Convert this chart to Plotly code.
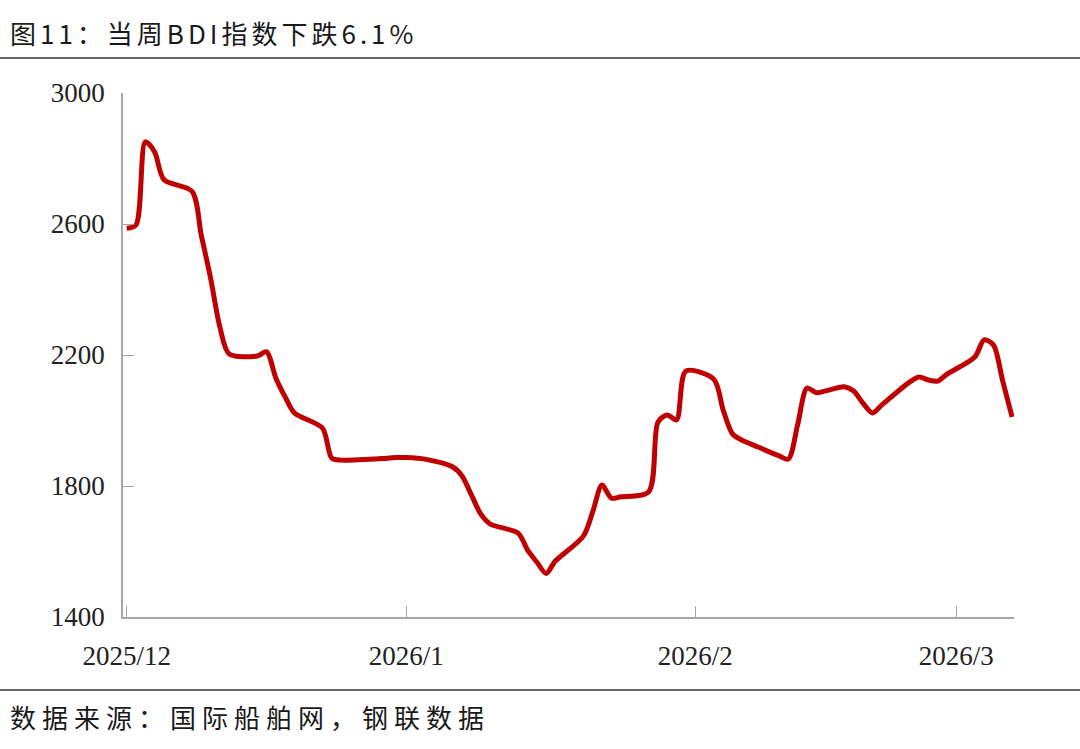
import plotly.graph_objects as go

# ---------------- data ----------------
dates = [
    "2025-12-01", "2025-12-02", "2025-12-03", "2025-12-04", "2025-12-05",
    "2025-12-08", "2025-12-09", "2025-12-10", "2025-12-11", "2025-12-12",
    "2025-12-15", "2025-12-16", "2025-12-17", "2025-12-18", "2025-12-19",
    "2025-12-22", "2025-12-23", "2025-12-24", "2025-12-29", "2025-12-30",
    "2025-12-31", "2026-01-02", "2026-01-05", "2026-01-06", "2026-01-07",
    "2026-01-08", "2026-01-09", "2026-01-12", "2026-01-13", "2026-01-14",
    "2026-01-15", "2026-01-16", "2026-01-19", "2026-01-20", "2026-01-21",
    "2026-01-22", "2026-01-23", "2026-01-26", "2026-01-27", "2026-01-28",
    "2026-01-29", "2026-01-30", "2026-02-02", "2026-02-03", "2026-02-04",
    "2026-02-05", "2026-02-06", "2026-02-09", "2026-02-10", "2026-02-11",
    "2026-02-12", "2026-02-13", "2026-02-16", "2026-02-17", "2026-02-18",
    "2026-02-19", "2026-02-20", "2026-02-23", "2026-02-24", "2026-02-25",
    "2026-02-26", "2026-02-27", "2026-03-02", "2026-03-03", "2026-03-04",
    "2026-03-05", "2026-03-06",
]
bdi = [
    2587, 2597, 2851, 2820, 2735,
    2700, 2566, 2435, 2285, 2203,
    2197, 2210, 2130, 2072, 2023,
    1977, 1885, 1879, 1885, 1887,
    1887, 1882, 1858, 1830, 1772,
    1714, 1684, 1656, 1605, 1568,
    1533, 1571, 1647, 1721, 1803,
    1763, 1767, 1782, 1995, 2017,
    2002, 2151, 2126, 2032, 1959,
    1940, 1928, 1892, 1882, 1988,
    2099, 2085, 2103, 2090, 2053,
    2023, 2047, 2117, 2133, 2124,
    2120, 2141, 2194, 2246, 2231,
    2120, 2011,
]
tick_dates = ["2025-12-01", "2025-12-31", "2026-01-31", "2026-02-28"]
tick_labels = ["2025/12", "2026/1", "2026/2", "2026/3"]
y_ticks = [1400, 1800, 2200, 2600, 3000]

title_text = "图11：当周BDI指数下跌6.1%"
source_text = "数据来源：国际船舶网，钢联数据"

# ---------------- layout geometry (pixels) ----------------
W, H = 1080, 749
PL, PR, PT, PB = 123, 1014, 93, 617  # plot area edges


def px(x):
    return (x - PL) / (PR - PL)


def py(y):
    return (PB - y) / (PB - PT)


LINE_RED = "#C00000"
AXIS_GREY = "#a6a6a6"
SERIF = "Liberation Serif, Times New Roman, serif"
CJK = "Noto Sans CJK SC, sans-serif"

fig = go.Figure()
fig.add_trace(go.Scatter(
    x=dates, y=bdi, mode="lines",
    line=dict(color=LINE_RED, width=5, shape="spline", smoothing=0.8),
    hoverinfo="x+y", showlegend=False,
))

fig.update_layout(
    width=W, height=H,
    margin=dict(l=PL, r=W - PR, t=PT, b=H - PB, pad=0),
    paper_bgcolor="white", plot_bgcolor="white",
    xaxis=dict(
        type="date",
        range=["2025-11-30 14:28", "2026-03-06 05:00"],
        tickmode="array", tickvals=tick_dates, ticktext=tick_labels,
        ticks="inside", ticklen=11, tickwidth=1, tickcolor=AXIS_GREY,
        showline=True, linecolor=AXIS_GREY, linewidth=1.5,
        showgrid=False, zeroline=False,
        tickfont=dict(family=SERIF, size=27, color="#222222"),
        ticklabelstandoff=14,
    ),
    yaxis=dict(
        range=[1400, 3000],
        tickmode="array", tickvals=y_ticks,
        ticktext=[str(v) for v in y_ticks],
        ticks="inside", ticklen=11, tickwidth=1, tickcolor=AXIS_GREY,
        showline=True, linecolor=AXIS_GREY, linewidth=1.5,
        showgrid=False, zeroline=False,
        tickfont=dict(family=SERIF, size=27, color="#222222"),
        ticklabelstandoff=11,
    ),
    shapes=[
        dict(type="line", xref="paper", yref="paper",
             x0=px(0), x1=px(W), y0=py(58), y1=py(58),
             line=dict(color="#666666", width=2)),
        dict(type="line", xref="paper", yref="paper",
             x0=px(0), x1=px(W), y0=py(690), y1=py(690),
             line=dict(color="#666666", width=2)),
    ],
    annotations=[
        dict(text='<span style="letter-spacing:4px">' + title_text + "</span>",
             xref="paper", yref="paper",
             x=px(8), y=py(33), xanchor="left", yanchor="middle",
             showarrow=False,
             font=dict(family=CJK, size=26, color="#1a1a1a")),
        dict(text='<span style="letter-spacing:6px">' + source_text + "</span>",
             xref="paper", yref="paper",
             x=px(8), y=py(716), xanchor="left", yanchor="middle",
             showarrow=False,
             font=dict(family=CJK, size=26, color="#1a1a1a")),
    ],
)

fig.write_html(
    "out.html",
    config={"displayModeBar": False},
    post_script="document.body.style.margin='0';document.body.style.overflow='hidden';",
)
